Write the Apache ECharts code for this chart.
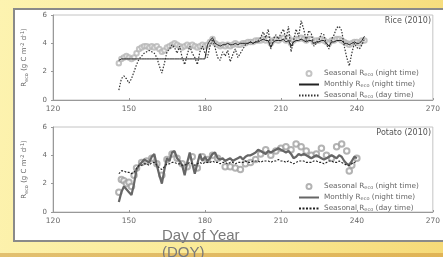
<!DOCTYPE html>
<html>
<head>
<meta charset="utf-8">
<script src="https://cdn.jsdelivr.net/npm/echarts@6/dist/echarts.min.js"></script>
<style>
  html, body { margin: 0; padding: 0; }
  body {
    width: 443px; height: 257px; overflow: hidden; position: relative;
    background: linear-gradient(100deg, #fdf3b0 0%, #f9e892 60%, #f6da78 100%);
  }
  #panel {
    position: absolute; left: 13px; top: 8px; width: 436px; height: 230px;
    background: #fff; border: 2px solid #8a8a8a;
  }
  #main { position: absolute; left: 0; top: 0; width: 443px; height: 257px; }
  #band {
    position: absolute; left: 0; top: 253px; width: 443px; height: 4px;
    background: linear-gradient(90deg, #e2c070, #e0b456);
  }
  #xname {
    position: absolute; left: 162px; top: 226px; width: 90px;
    font-family: "Liberation Sans", Arial, sans-serif; font-size: 15px;
    line-height: 17px; color: #7a7a7a;
  }
</style>
</head>
<body>
<div id="panel"></div>
<div id="band"></div>
<div id="main"></div>
<div id="xname">Day of Year (DOY)</div>
<script>
// x axis ticks (DOY)
var xTicks = [120, 150, 180, 210, 240, 270];
var yTicks = [0, 2, 4, 6];

// Rice (2010), daily from DOY 146
var riceStart = 146;
var riceDay = [0.7, 1.5, 1.7, 1.5, 1.2, 1.5, 2.0, 2.5, 2.9, 3.1, 3.3, 3.4, 3.5, 3.4, 3.3, 3.0, 2.4, 1.9,
  2.6, 3.4, 3.6, 3.9, 3.7, 3.3, 3.8, 3.0, 2.5, 3.2, 3.8, 3.3, 3.0, 2.5, 3.4, 3.8, 3.3, 3.0, 3.8, 4.3,
  3.7, 3.0, 2.8, 3.4, 3.1, 3.5, 2.7, 3.2, 3.6, 3.0, 3.3, 3.6, 3.9, 4.0, 4.1, 4.0, 4.1, 4.2, 4.4, 4.8,
  4.4, 5.0, 3.6, 4.3, 4.6, 4.3, 4.7, 5.0, 4.3, 5.2, 3.4, 4.2, 5.0, 4.5, 5.6, 5.0, 4.2, 4.9, 4.7, 3.8,
  4.0, 4.2, 4.7, 4.6, 3.9, 3.6, 4.3, 4.6, 5.1, 5.2, 4.9, 3.8, 3.0, 2.4, 3.3, 4.0, 3.7, 3.6, 3.9, 4.3];
var riceMonthly = [2.8, 2.9, 2.9, 2.9, 2.9, 2.9, 2.9, 2.9, 2.9, 2.9, 2.9, 2.9, 2.9, 2.9, 2.9, 2.9, 2.9, 2.9,
  2.9, 2.9, 2.9, 2.9, 2.9, 2.9, 2.9, 2.9, 2.9, 2.9, 2.9, 2.9, 2.9, 2.9, 2.9, 2.9, 2.9, 3.9, 4.2, 4.4,
  4.0, 3.9, 3.8, 3.9, 3.9, 4.0, 3.9, 3.9, 4.0, 3.9, 4.0, 4.0, 4.0, 4.0, 4.1, 4.0, 4.1, 4.1, 4.2, 4.3,
  4.2, 4.2, 3.7, 4.1, 4.2, 4.2, 4.2, 4.3, 4.1, 4.2, 3.8, 4.1, 4.2, 4.2, 4.3, 4.2, 4.1, 4.2, 4.2, 4.0,
  4.1, 4.1, 4.2, 4.2, 4.0, 3.8, 4.1, 4.1, 4.2, 4.2, 4.2, 4.0, 4.0, 3.9, 4.0, 4.1, 4.0, 4.0, 4.2, 4.5];
var riceNight = [2.6, 2.9, 3.0, 3.1, 3.0, 2.9, 3.0, 3.3, 3.6, 3.7, 3.8, 3.8, 3.7, 3.8, 3.7, 3.8, 3.6, 3.4,
  3.5, 3.7, 3.8, 3.9, 4.0, 3.9, 3.8, 3.7, 3.8, 3.9, 3.8, 3.9, 3.8, 3.7, 3.8, 3.9, 3.8, 3.9, 4.1, 4.3,
  4.0, 3.9, 3.8, 3.9, 3.8, 3.9, 3.8, 3.9, 4.0, 3.9, 3.9, 4.0, 4.0, 4.1, 4.1, 4.1, 4.2, 4.2, 4.2, 4.3,
  4.2, 4.3, 4.0, 4.2, 4.3, 4.2, 4.3, 4.4, 4.2, 4.4, 4.0, 4.2, 4.3, 4.3, 4.4, 4.3, 4.2, 4.3, 4.3, 4.1,
  4.2, 4.2, 4.3, 4.2, 4.1, 4.0, 4.2, 4.2, 4.3, 4.3, 4.2, 4.1, 4.0, 3.9, 4.0, 4.1, 4.1, 4.0, 4.2, 4.2];

// Potato (2010), daily from DOY 146
var potatoStart = 146;
var potatoMonthly = [0.7, 1.4, 1.8, 1.6, 1.4, 1.2, 2.0, 3.0, 3.3, 3.5, 3.7, 3.6, 3.5, 3.9, 4.1, 3.3, 2.6, 2.0,
  3.0, 3.8, 3.6, 4.2, 4.3, 3.8, 3.6, 3.3, 2.6, 3.5, 4.2, 3.4, 2.7, 3.4, 4.1, 3.6, 3.9, 3.6, 3.8, 4.1,
  4.2, 3.8, 3.7, 3.8, 3.6, 3.7, 3.8, 3.6, 3.7, 3.8, 3.9, 3.7, 3.9, 4.0, 4.0, 4.1, 4.2, 4.4, 4.3, 4.2,
  4.1, 4.3, 4.2, 4.3, 4.4, 4.5, 4.4, 4.3, 4.2, 4.3, 4.1, 3.8, 3.9, 4.1, 4.0, 4.1, 4.0, 3.9, 3.8, 3.9,
  4.0, 3.9, 3.8, 3.7, 3.8, 3.9, 4.0, 3.9, 3.8, 4.0, 3.9, 3.6, 3.4, 3.3, 3.6, 3.9, 3.8];
var potatoDay = [2.7, 2.9, 2.9, 2.8, 2.8, 2.7, 2.8, 3.1, 3.3, 3.3, 3.4, 3.4, 3.3, 3.5, 3.5, 3.3, 3.1, 3.0,
  3.2, 3.4, 3.4, 3.5, 3.5, 3.4, 3.4, 3.3, 3.3, 3.4, 3.5, 3.4, 3.3, 3.4, 3.5, 3.4, 3.5, 3.5, 3.5, 3.6,
  3.5, 3.5, 3.4, 3.5, 3.5, 3.4, 3.5, 3.5, 3.4, 3.5, 3.5, 3.5, 3.6, 3.5, 3.5, 3.6, 3.6, 3.6, 3.5, 3.6,
  3.6, 3.6, 3.5, 3.6, 3.6, 3.7, 3.6, 3.6, 3.5, 3.6, 3.5, 3.4, 3.5, 3.6, 3.6, 3.6, 3.5, 3.5, 3.5, 3.6,
  3.6, 3.5, 3.5, 3.4, 3.5, 3.6, 3.6, 3.5, 3.5, 3.6, 3.5, 3.4, 3.3, 3.3, 3.4, 3.5, 3.6];
var potatoNightDays = [146, 147, 148, 149, 150, 151, 152, 153, 155, 157, 159, 161, 163, 165, 167, 169, 171,
  173, 175, 177, 179, 181, 183, 185, 188, 190, 192, 194, 196, 198, 200, 202, 204, 206, 208, 210, 212,
  214, 216, 218, 220, 222, 224, 226, 228, 230, 232, 234, 236, 237, 238, 240];
var potatoNight = [1.4, 2.3, 2.2, 2.0, 2.1, 1.8, 2.6, 3.1, 3.5, 3.6, 3.8, 3.4, 2.6, 3.7, 4.1, 3.8, 3.4,
  3.2, 3.9, 3.1, 3.9, 3.7, 4.0, 3.8, 3.2, 3.2, 3.1, 3.0, 3.4, 3.5, 3.7, 4.1, 4.4, 4.0, 4.3, 4.5, 4.6,
  4.4, 4.8, 4.6, 4.3, 4.0, 4.1, 4.5, 4.0, 3.8, 4.6, 4.8, 4.3, 2.9, 3.3, 3.8];

function pairs(start, vals) {
  return vals.map(function (v, i) { return [start + i, v]; });
}

var font = '"DejaVu Sans", sans-serif';
var yName = 'R{sub|eco} (g C m{sup|-2} d{sup|-1})';
var nameRich = {
  sub: { fontSize: 5, verticalAlign: 'bottom', padding: [4, 0, 0, 0], color: '#666', fontFamily: font },
  sup: { fontSize: 5, verticalAlign: 'top', padding: [0, 0, 4, 0], color: '#666', fontFamily: font }
};
var legendRich = {
  s: { fontSize: 5, padding: [3, 0, 0, 0], color: '#666', fontFamily: font }
};
var legendNames = {
  rN: 'Seasonal R{s|eco} (night time)', rM: 'Monthly R{s|eco} (night time)', rD: 'Seasonal R{s|eco} (day time)',
  pN: 'Seasonal R{s|eco} (night time)', pM: 'Monthly R{s|eco} (night time)', pD: 'Seasonal R{s|eco} (day time)'
};

function xAx(gi) {
  return {
    gridIndex: gi, type: 'value', min: 120, max: 270, interval: 30,
    axisLine: { lineStyle: { color: '#999', width: 1 } },
    axisTick: { length: 2, inside: true, lineStyle: { color: '#999' } },
    axisLabel: { fontSize: 7.5, color: '#666', fontFamily: font, margin: 5,
      showMaxLabel: true, formatter: function (v) { return xTicks.indexOf(v) >= 0 ? v : ''; } },
    splitLine: { show: false }
  };
}
function yAx(gi) {
  return {
    gridIndex: gi, type: 'value', min: 0, max: 6, interval: 2,
    name: yName, nameLocation: 'middle', nameGap: 24, nameRotate: 90,
    nameTextStyle: { fontSize: 7, color: '#666', fontFamily: font, rich: nameRich },
    axisLine: { show: true, lineStyle: { color: '#999', width: 1 } },
    axisTick: { show: true, length: 2, lineStyle: { color: '#999' } },
    axisLabel: { fontSize: 7, color: '#666', fontFamily: font, margin: 6,
      formatter: function (v) { return yTicks.indexOf(v) >= 0 ? v : ''; } },
    splitLine: { show: false }
  };
}
function legend(top, names) {
  return {
    orient: 'vertical', left: 298, top: top, itemWidth: 20, itemHeight: 5, itemGap: 3.5,
    data: names, selectedMode: false, padding: 0,
    textStyle: { fontSize: 7.3, color: '#666', fontFamily: font, rich: legendRich },
    formatter: function (n) { return legendNames[n]; }
  };
}
var hideSym = { opacity: 0 };

var chart = echarts.init(document.getElementById('main'), null, { renderer: 'canvas' });
chart.setOption({
  animation: false,
  backgroundColor: 'transparent',
  grid: [
    { left: 53, top: 15, width: 386, height: 85, show: true, borderColor: '#c4c4c4', borderWidth: 1 },
    { left: 53, top: 127, width: 386, height: 85, show: true, borderColor: '#c4c4c4', borderWidth: 1 }
  ],
  xAxis: [xAx(0), xAx(1)],
  yAxis: [yAx(0), yAx(1)],
  title: [
    { text: 'Rice (2010)', right: 12, top: 17, padding: 0, textStyle: { fontSize: 8, fontWeight: 'normal', color: '#555', fontFamily: font } },
    { text: 'Potato (2010)', right: 12, top: 129, padding: 0, textStyle: { fontSize: 8, fontWeight: 'normal', color: '#555', fontFamily: font } }
  ],
  legend: [
    legend(70, [{ name: 'rN' }, { name: 'rM', itemStyle: hideSym }, { name: 'rD', itemStyle: hideSym }]),
    legend(183, [{ name: 'pN' }, { name: 'pM', itemStyle: hideSym }, { name: 'pD', itemStyle: hideSym }])
  ],
  series: [
    { name: 'rN', type: 'scatter', xAxisIndex: 0, yAxisIndex: 0, data: pairs(riceStart, riceNight),
      symbol: 'emptyCircle', symbolSize: 4.5, itemStyle: { color: '#b5b5b5', borderWidth: 1 } },
    { name: 'rM', type: 'line', xAxisIndex: 0, yAxisIndex: 0, data: pairs(riceStart, riceMonthly),
      showSymbol: false, lineStyle: { color: '#222', width: 1 }, itemStyle: { color: '#222' } },
    { name: 'rD', type: 'line', xAxisIndex: 0, yAxisIndex: 0, data: pairs(riceStart, riceDay),
      showSymbol: false, lineStyle: { color: '#333', width: 1.2, type: [1.5, 1.5] }, itemStyle: { color: '#333' } },
    { name: 'pN', type: 'scatter', xAxisIndex: 1, yAxisIndex: 1, data: potatoNightDays.map(function (d, i) { return [d, potatoNight[i]]; }),
      symbol: 'emptyCircle', symbolSize: 5.5, itemStyle: { color: '#a0a0a0', borderWidth: 1 } },
    { name: 'pM', type: 'line', xAxisIndex: 1, yAxisIndex: 1, data: pairs(potatoStart, potatoMonthly),
      showSymbol: false, lineStyle: { color: '#666', width: 2.2 }, itemStyle: { color: '#666' } },
    { name: 'pD', type: 'line', xAxisIndex: 1, yAxisIndex: 1, data: pairs(potatoStart, potatoDay),
      showSymbol: false, lineStyle: { color: '#222', width: 1.1, type: [2, 1.5] }, itemStyle: { color: '#222' } }
  ]
});
</script>
</body>
</html>
